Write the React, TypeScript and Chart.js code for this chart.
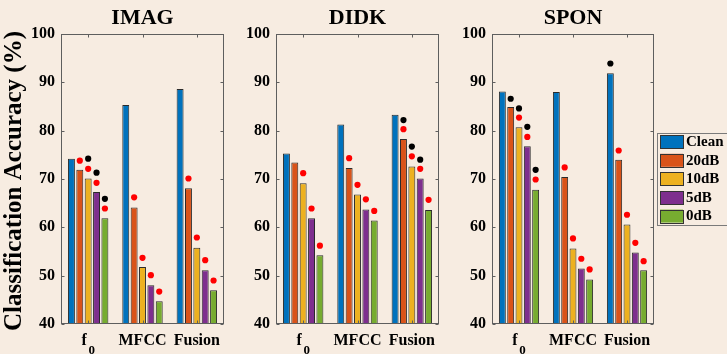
import React, { useEffect, useRef } from "react";
import { Chart, registerables } from "chart.js";

Chart.register(...registerables);

const FONT = "'Liberation Serif', 'Times New Roman', serif";
const BG = "#F7ECE1";

const categories = ["f0", "MFCC", "Fusion"];
const xTickLabels = ["f  ", "MFCC", "Fusion"];
const seriesNames = ["Clean", "20dB", "10dB", "5dB", "0dB"];
const seriesColors = ["#0072BD", "#D95319", "#EDB120", "#7E2F8E", "#77AC30"];
const panelTitles = ["IMAG", "DIDK", "SPON"];
const yTitle = "Classification Accuracy (%)";
const yMin = 40;
const yMax = 100;
const yStep = 10;

// IMAG bars (f0, MFCC, Fusion)
const imagClean = [74.2, 85.3, 88.6];
const imag20 = [71.9, 64.1, 68.1];
const imag10 = [70.1, 51.8, 55.8];
const imag5 = [67.3, 48.0, 51.1];
const imag0 = [61.9, 44.7, 47.0];
// IMAG markers
const imagRed = [
  [null, null, null],
  [73.8, 66.2, 70.1],
  [72.1, 53.7, 57.9],
  [69.2, 50.1, 53.2],
  [63.9, 46.7, 49.0],
];
const imagBlack = [
  [null, null, null],
  [null, null, null],
  [74.2, null, null],
  [71.3, null, null],
  [65.9, null, null],
];

// DIDK bars
const didkClean = [75.3, 81.3, 83.3];
const didk20 = [73.4, 72.3, 78.3];
const didk10 = [69.1, 66.8, 72.6];
const didk5 = [61.9, 63.7, 70.1];
const didk0 = [54.2, 61.4, 63.6];
const didkRed = [
  [null, null, null],
  [null, 74.3, 80.3],
  [71.2, 68.8, 74.7],
  [63.9, 65.8, 72.1],
  [56.2, 63.4, 65.7],
];
const didkBlack = [
  [null, null, null],
  [null, null, 82.2],
  [null, null, 76.7],
  [null, null, 74.0],
  [null, null, null],
];

// SPON bars
const sponClean = [88.1, 88.0, 91.9];
const spon20 = [84.9, 70.4, 74.0];
const spon10 = [80.7, 55.6, 60.6];
const spon5 = [76.8, 51.5, 54.8];
const spon0 = [67.8, 49.2, 51.1];
const sponRed = [
  [null, null, null],
  [null, 72.4, 75.9],
  [82.7, 57.7, 62.6],
  [78.7, 53.5, 56.8],
  [69.9, 51.3, 53.0],
];
const sponBlack = [
  [null, null, 93.9],
  [86.6, null, null],
  [84.6, null, null],
  [80.8, null, null],
  [71.9, null, null],
];

const panels = [
  {
    title: panelTitles[0],
    values: [imagClean, imag20, imag10, imag5, imag0],
    red: imagRed,
    black: imagBlack,
    left: 0,
    width: 232,
    yWidth: 61,
    padRight: 8,
    showYTitle: true,
    showLegend: false,
  },
  {
    title: panelTitles[1],
    values: [didkClean, didk20, didk10, didk5, didk0],
    red: didkRed,
    black: didkBlack,
    left: 232,
    width: 215,
    yWidth: 44,
    padRight: 8,
    showYTitle: false,
    showLegend: false,
  },
  {
    title: panelTitles[2],
    values: [sponClean, spon20, spon10, spon5, spon0],
    red: sponRed,
    black: sponBlack,
    left: 447,
    width: 280,
    yWidth: 45,
    padRight: 73,
    showYTitle: false,
    showLegend: true,
  },
];

const framePlugin = {
  id: "frame",
  afterDatasetsDraw(chart: any, _args: any, opts: any) {
    const ctx = chart.ctx;
    const area = chart.chartArea;
    const xs = chart.scales.x;
    const ys = chart.scales.y;
    const L = Math.round(area.left) + 0.5;
    const R = Math.round(area.right) - 0.5;
    const T = Math.round(area.top) + 0.5;
    const B = Math.round(area.bottom) - 0.5;

    // axis box and inward ticks
    ctx.save();
    ctx.strokeStyle = "#5e5e5e";
    ctx.lineWidth = 1;
    ctx.strokeRect(L, T, R - L, B - T);
    ctx.beginPath();
    ys.ticks.forEach((t: any) => {
      const y = Math.round(ys.getPixelForValue(t.value)) + 0.5;
      ctx.moveTo(L, y);
      ctx.lineTo(L + 3, y);
      ctx.moveTo(R, y);
      ctx.lineTo(R - 3, y);
    });
    categories.forEach((_c, i) => {
      const x = Math.round(xs.getPixelForTick(i)) + 0.5;
      ctx.moveTo(x, T);
      ctx.lineTo(x, T + 3);
      ctx.moveTo(x, B);
      ctx.lineTo(x, B - 3);
    });
    ctx.stroke();
    ctx.restore();

    // markers above bars
    const drawDots = (vals: (number | null)[][], color: string) => {
      vals.forEach((row, si) => {
        const meta = chart.getDatasetMeta(si);
        row.forEach((v, ci) => {
          if (v === null || v === undefined) return;
          const bar = meta.data[ci];
          ctx.beginPath();
          ctx.fillStyle = color;
          ctx.arc(bar.x, ys.getPixelForValue(v), 3.1, 0, Math.PI * 2);
          ctx.fill();
        });
      });
    };
    drawDots(opts.red, "#FF0000");
    drawDots(opts.black, "#000000");
  },
  afterDraw(chart: any, _args: any, opts: any) {
    const ctx = chart.ctx;
    const area = chart.chartArea;
    const xs = chart.scales.x;
    ctx.save();
    ctx.fillStyle = "#000";
    // panel title
    ctx.font = `bold 22px ${FONT}`;
    ctx.textAlign = "center";
    ctx.textBaseline = "middle";
    ctx.fillText(opts.title, (area.left + area.right) / 2, 18);

    // subscript of f0
    ctx.font = `bold 13px ${FONT}`;
    ctx.fillText("0", xs.getPixelForTick(0) + 3.5, 351);

    // y axis title
    if (opts.showYTitle) {
      ctx.save();
      ctx.translate(15, (area.top + area.bottom) / 2 + 2);
      ctx.rotate(-Math.PI / 2);
      ctx.font = `bold 25px ${FONT}`;
      ctx.textAlign = "center";
      ctx.textBaseline = "middle";
      ctx.fillText(opts.yTitle, 0, 0);
      ctx.restore();
    }

    // legend
    if (opts.showLegend) {
      const lx = 657.5 - opts.left;
      const ly = 133.5;
      ctx.fillStyle = BG;
      ctx.fillRect(lx, ly, 100, 92);
      ctx.strokeStyle = "#7a7a7a";
      ctx.lineWidth = 1;
      ctx.strokeRect(lx, ly, 100, 92);
      seriesNames.forEach((name, i) => {
        const cy = 141.7 + i * 18.6;
        ctx.fillStyle = seriesColors[i];
        ctx.fillRect(lx + 2.5, cy - 6.5, 23, 13);
        ctx.strokeStyle = "#333";
        ctx.strokeRect(Math.round(lx + 2.5) + 0.5, Math.round(cy - 6.5) + 0.5, 23, 13);
        ctx.fillStyle = "#000";
        ctx.font = `bold 15px ${FONT}`;
        ctx.textAlign = "left";
        ctx.textBaseline = "middle";
        ctx.fillText(name, lx + 28.5, cy + 0.5);
      });
    }
    ctx.restore();
  },
};

function Panel({ p }: { p: any }) {
  const ref = useRef<HTMLCanvasElement | null>(null);
  useEffect(() => {
    if (!ref.current) return;
    const chart = new Chart(ref.current, {
      type: "bar",
      data: {
        labels: categories,
        datasets: seriesNames.map((name, i) => ({
          label: name,
          data: p.values[i],
          backgroundColor: seriesColors[i],
          borderColor: "#2b2b2b",
          borderWidth: 1,
          categoryPercentage: 0.77,
          barPercentage: 0.83,
        })),
      },
      options: {
        responsive: false,
        animation: false,
        layout: { padding: { top: 34, right: p.padRight, left: 0, bottom: 0 } },
        plugins: {
          legend: { display: false },
          tooltip: { enabled: false },
          title: { display: false },
          frame: {
            title: p.title,
            red: p.red,
            black: p.black,
            showYTitle: p.showYTitle,
            showLegend: p.showLegend,
            yTitle,
            left: p.left,
          },
        } as any,
        scales: {
          x: {
            grid: { display: false, drawTicks: false },
            border: { display: false },
            ticks: {
              color: "#000",
              font: { family: FONT, size: 16, weight: "bold" },
              padding: 7,
              maxRotation: 0,
              autoSkip: false,
              callback: (_v: any, i: number) => xTickLabels[i],
            },
            afterFit: (s: any) => {
              s.height = 30;
            },
          },
          y: {
            min: yMin,
            max: yMax,
            grid: { display: false, drawTicks: false },
            border: { display: false },
            ticks: {
              stepSize: yStep,
              color: "#000",
              font: { family: FONT, size: 16, weight: "bold" },
              padding: 6,
            },
            afterFit: (s: any) => {
              s.width = p.yWidth;
            },
          },
        },
      } as any,
      plugins: [framePlugin],
    });
    return () => chart.destroy();
  }, [p]);
  return (
    <div style={{ position: "absolute", left: p.left, top: 0, width: p.width, height: 354 }}>
      <canvas ref={ref} width={p.width} height={354} style={{ display: "block" }} />
    </div>
  );
}

export default function App() {
  useEffect(() => {
    document.body.style.margin = "0";
    document.body.style.background = BG;
  }, []);
  return (
    <div
      style={{
        position: "absolute",
        left: 0,
        top: 0,
        width: 727,
        height: 354,
        background: BG,
        overflow: "hidden",
      }}
    >
      {panels.map((p, i) => (
        <Panel key={i} p={p} />
      ))}
    </div>
  );
}
